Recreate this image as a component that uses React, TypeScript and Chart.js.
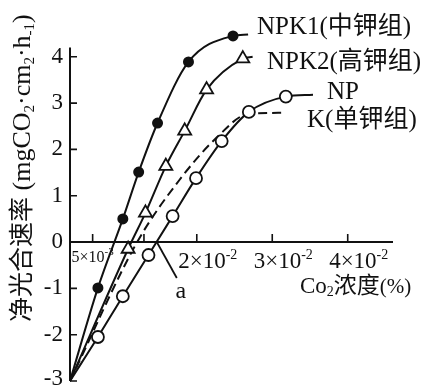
import React, { useEffect, useRef } from "react";
import { Chart, registerables } from "chart.js";

Chart.register(...registerables);

// x in units of 10^-2 % CO2 (as drawn), y in mgCO2·cm-2·h-1
const X_MIN = 0.32;
const X_MAX = 4.6;
const Y_MIN = -3;
const Y_MAX = 4.6;
const Y_AXIS_TOP = 4.2;

const NPK1_X = [0.32, 0.69, 1.02, 1.23, 1.48, 1.89, 2.48, 2.68];
const NPK1_Y = [-3, -0.99, 0.5, 1.51, 2.57, 3.89, 4.45, 4.48];
const NPK2_X = [0.32, 1.09, 1.32, 1.59, 1.84, 2.13, 2.61, 2.74];
const NPK2_Y = [-3, -0.15, 0.63, 1.64, 2.4, 3.29, 3.96, 4.0];
const NP_X = [0.32, 0.69, 1.02, 1.36, 1.68, 1.99, 2.33, 2.69, 3.18, 3.54];
const NP_Y = [-3, -2.05, -1.17, -0.28, 0.56, 1.38, 2.18, 2.81, 3.14, 3.18];
const K_X = [0.32, 1.21, 1.77, 2.26, 2.69, 3.13];
const K_Y = [-3, 0, 1.34, 2.25, 2.77, 2.79];

const Y_TICKS = [-3, -2, -1, 0, 1, 2, 3, 4];
const X_TICKS = [0.62, 1.3, 2, 3, 4];
const X_TICK_BASE = ["5×10", "", "2×10", "3×10", "4×10"];
const X_TICK_EXP = ["-3", "", "-2", "-2", "-2"];
const A_POINT_X = 1.47; // NP compensation point "a"

const LATIN = '"Liberation Serif", "Times New Roman", serif';
const MIXED = '"Liberation Serif", "Noto Sans CJK SC", serif';
const CJK = '"Noto Sans CJK SC", sans-serif';

type Seg = { t: string; size: number; dy?: number; fam?: string };

function drawRich(ctx: CanvasRenderingContext2D, segs: Seg[], x: number, y: number, align: "left" | "center" | "right") {
  const widths = segs.map((s) => {
    ctx.font = `${s.size}px ${s.fam || MIXED}`;
    return ctx.measureText(s.t).width;
  });
  const total = widths.reduce((a, b) => a + b, 0);
  let cx = align === "left" ? x : align === "center" ? x - total / 2 : x - total;
  ctx.textAlign = "left";
  ctx.textBaseline = "alphabetic";
  segs.forEach((s, i) => {
    ctx.font = `${s.size}px ${s.fam || MIXED}`;
    ctx.fillText(s.t, cx, y + (s.dy || 0));
    cx += widths[i];
  });
}

const pts = (xs: number[], ys: number[]) => xs.map((x, i) => ({ x, y: ys[i] }));

const axesPlugin = {
  id: "axesPlugin",
  beforeDatasetsDraw(chart: any) {
    const ctx: CanvasRenderingContext2D = chart.ctx;
    const xs = chart.scales.x;
    const ys = chart.scales.y;
    const x0 = xs.getPixelForValue(X_MIN);
    const y0 = ys.getPixelForValue(0);
    ctx.save();
    ctx.strokeStyle = "#111";
    ctx.lineWidth = 2;
    ctx.beginPath();
    ctx.moveTo(x0, ys.getPixelForValue(Y_MIN));
    ctx.lineTo(x0, ys.getPixelForValue(Y_AXIS_TOP));
    ctx.moveTo(x0, y0);
    ctx.lineTo(xs.getPixelForValue(X_MAX), y0);
    ctx.stroke();
    ctx.lineWidth = 1.6;
    ctx.beginPath();
    Y_TICKS.forEach((v) => {
      if (v === 0) return;
      const py = ys.getPixelForValue(v);
      ctx.moveTo(x0, py);
      ctx.lineTo(x0 + 7, py);
    });
    X_TICKS.forEach((v) => {
      const px = xs.getPixelForValue(v);
      ctx.moveTo(px, y0);
      ctx.lineTo(px, y0 - 8);
    });
    ctx.stroke();
    ctx.restore();
  },
  afterDraw(chart: any) {
    const ctx: CanvasRenderingContext2D = chart.ctx;
    const xs = chart.scales.x;
    const ys = chart.scales.y;
    const x0 = xs.getPixelForValue(X_MIN);
    const y0 = ys.getPixelForValue(0);
    ctx.save();
    ctx.fillStyle = "#111";
    ctx.strokeStyle = "#111";
    // y tick labels
    ctx.font = `23px ${LATIN}`;
    ctx.textAlign = "right";
    ctx.textBaseline = "middle";
    Y_TICKS.forEach((v) => {
      const off = v === Y_MIN ? -2 : 0;
      ctx.fillText(String(v), x0 - 7, ys.getPixelForValue(v) + off);
    });
    // x tick labels
    X_TICKS.forEach((v, i) => {
      if (!X_TICK_BASE[i]) return;
      const px = xs.getPixelForValue(v);
      if (i === 0) {
        drawRich(ctx, [
          { t: X_TICK_BASE[i], size: 16, fam: LATIN },
          { t: X_TICK_EXP[i], size: 11, dy: -7, fam: LATIN },
        ], px, y0 + 20, "center");
      } else {
        drawRich(ctx, [
          { t: X_TICK_BASE[i], size: 23, fam: LATIN },
          { t: X_TICK_EXP[i], size: 14, dy: -9, fam: LATIN },
        ], px + 11, y0 + 26, "center");
      }
    });
    // x title
    drawRich(ctx, [
      { t: "Co", size: 23, fam: LATIN },
      { t: "2", size: 14, dy: 3, fam: LATIN },
      { t: "浓度", size: 23, fam: CJK },
      { t: "(%)", size: 21, fam: LATIN },
    ], 300, 293, "left");
    // y title (rotated)
    ctx.save();
    ctx.translate(30, 322);
    ctx.rotate(-Math.PI / 2);
    drawRich(ctx, [
      { t: "净光合速率", size: 25, fam: CJK },
      { t: " (mgCO", size: 26, fam: LATIN },
      { t: "2", size: 15, dy: 4, fam: LATIN },
      { t: "·cm", size: 26, fam: LATIN },
      { t: "2", size: 15, dy: 4, fam: LATIN },
      { t: "·h", size: 26, fam: LATIN },
      { t: "-1", size: 15, dy: 4, fam: LATIN },
      { t: ")", size: 26, fam: LATIN },
    ], 0, 0, "left");
    ctx.restore();
    // series labels
    drawRich(ctx, [{ t: "NPK1(中钾组)", size: 25 }], 257, 34, "left");
    drawRich(ctx, [{ t: "NPK2(高钾组)", size: 25 }], 267, 69, "left");
    drawRich(ctx, [{ t: "NP", size: 25 }], 327, 99, "left");
    drawRich(ctx, [{ t: "K(单钾组)", size: 25 }], 307, 127, "left");
    // point a
    const ax = xs.getPixelForValue(A_POINT_X);
    ctx.lineWidth = 1.8;
    ctx.beginPath();
    ctx.moveTo(ax, y0);
    ctx.lineTo(ax + 20, y0 + 36);
    ctx.stroke();
    drawRich(ctx, [{ t: "a", size: 24, fam: LATIN }], ax + 24, y0 + 56, "center");
    ctx.restore();
  },
};

export default function App() {
  const ref = useRef<HTMLCanvasElement | null>(null);
  useEffect(() => {
    if (!ref.current) return;
    const markerR = (r: number, n: number) => (c: any) => (c.dataIndex === 0 || c.dataIndex === n - 1 ? 0 : r);
    const chart = new Chart(ref.current, {
      type: "line",
      data: {
        datasets: [
          {
            label: "NPK1(中钾组)",
            data: pts(NPK1_X, NPK1_Y),
            borderColor: "#111",
            borderWidth: 2,
            pointStyle: "circle",
            pointRadius: markerR(4.5, NPK1_X.length),
            pointBackgroundColor: "#111",
            pointBorderColor: "#111",
            cubicInterpolationMode: "monotone",
            clip: false,
          },
          {
            label: "NPK2(高钾组)",
            data: pts(NPK2_X, NPK2_Y),
            borderColor: "#111",
            borderWidth: 2,
            pointStyle: "triangle",
            pointRadius: markerR(7.5, NPK2_X.length),
            pointBackgroundColor: "#fff",
            pointBorderColor: "#111",
            pointBorderWidth: 1.8,
            cubicInterpolationMode: "monotone",
            clip: false,
          },
          {
            label: "NP",
            data: pts(NP_X, NP_Y),
            borderColor: "#111",
            borderWidth: 2,
            pointStyle: "circle",
            pointRadius: markerR(6, NP_X.length),
            pointBackgroundColor: "#fff",
            pointBorderColor: "#111",
            pointBorderWidth: 1.8,
            cubicInterpolationMode: "monotone",
            clip: false,
          },
          {
            label: "K(单钾组)",
            data: pts(K_X, K_Y),
            borderColor: "#111",
            borderWidth: 2,
            borderDash: [9, 5],
            pointRadius: 0,
            cubicInterpolationMode: "monotone",
            clip: false,
          },
        ],
      },
      options: {
        animation: false,
        responsive: false,
        events: [],
        layout: { padding: { left: 70, right: 32, top: 29, bottom: 6 } },
        plugins: { legend: { display: false }, tooltip: { enabled: false } },
        scales: {
          x: { type: "linear", min: X_MIN, max: X_MAX, display: false },
          y: { type: "linear", min: Y_MIN, max: Y_MAX, display: false },
        },
      },
      plugins: [axesPlugin],
    } as any);
    return () => chart.destroy();
  }, []);
  return (
    <div style={{ position: "fixed", left: 0, top: 0, width: 425, height: 387, background: "#fff" }}>
      <canvas ref={ref} width={425} height={387} style={{ display: "block" }} />
    </div>
  );
}
